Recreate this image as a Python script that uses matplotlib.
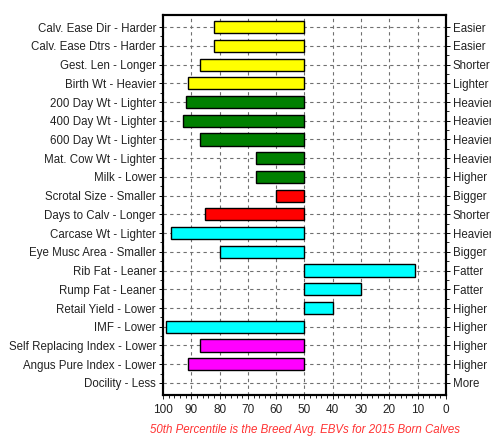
import numpy as np
import matplotlib.pyplot as plt
from matplotlib.ticker import MultipleLocator

plt.rcParams['font.family'] = ['Liberation Sans', 'DejaVu Sans']

# traits, left/right captions, percentile values and colours
left_labels = ['Calv. Ease Dir - Harder', 'Calv. Ease Dtrs - Harder', 'Gest. Len - Longer',
               'Birth Wt - Heavier', '200 Day Wt - Lighter', '400 Day Wt - Lighter',
               '600 Day Wt - Lighter', 'Mat. Cow Wt - Lighter', 'Milk - Lower',
               'Scrotal Size - Smaller', 'Days to Calv - Longer', 'Carcase Wt - Lighter',
               'Eye Musc Area - Smaller', 'Rib Fat - Leaner', 'Rump Fat - Leaner',
               'Retail Yield - Lower', 'IMF - Lower', 'Self Replacing Index - Lower',
               'Angus Pure Index - Lower', 'Docility - Less']
right_labels = ['Easier', 'Easier', 'Shorter', 'Lighter', 'Heavier', 'Heavier', 'Heavier',
                'Heavier', 'Higher', 'Bigger', 'Shorter', 'Heavier', 'Bigger', 'Fatter',
                'Fatter', 'Higher', 'Higher', 'Higher', 'Higher', 'More']
percentile = [82, 82, 87, 91, 92, 93, 87, 67, 67, 60, 85, 97, 80, 11, 30, 40, 99, 87, 91, 50]
colors = ['#ffff00'] * 4 + ['#008000'] * 5 + ['#ff0000'] * 2 + ['#00ffff'] * 6 + ['#ff00ff'] * 2 + ['#ffffff']

base = 50
y = np.arange(len(left_labels))

fig = plt.figure(figsize=(4.91, 4.40), dpi=100)
ax = fig.add_axes([0.332, 0.102, 0.576, 0.864])

# skip traits sitting right on the breed average (no bar drawn)
for yi, p, c in zip(y, percentile, colors):
    if p != base:
        ax.barh(yi, p - base, left=base, height=0.65, color=c, edgecolor='black',
                linewidth=1.0, zorder=3)

ax.set_xlim(100, 0)
ax.set_ylim(len(y) - 0.35, -0.65)
ax.xaxis.set_major_locator(MultipleLocator(10))
ax.xaxis.set_minor_locator(MultipleLocator(2))
ax.set_yticks(y)
ax.set_yticks(y[:-1] + 0.5, minor=True)
ax.set_yticklabels(left_labels, fontsize=8.3, color='#222222')
ax.tick_params(axis='x', labelsize=8.5, colors='#222222', length=3, width=0.7)
ax.tick_params(axis='x', which='minor', length=2, width=0.6)
ax.tick_params(axis='y', length=3, width=0.7, pad=2)
ax.tick_params(axis='y', which='minor', length=2, width=0.6)

ax2 = ax.twinx()
ax2.set_ylim(ax.get_ylim())
ax2.set_yticks(y)
ax2.set_yticks(y[:-1] + 0.5, minor=True)
ax2.set_yticklabels(right_labels, fontsize=8.3, color='#222222')
ax2.tick_params(axis='y', length=3, width=0.7, pad=2)
ax2.tick_params(axis='y', which='minor', length=2, width=0.6)

for a in (ax, ax2):
    for s in a.spines.values():
        s.set_linewidth(1.5)

ax.grid(True, which='major', color='#707070', linestyle=(0, (3, 3)), linewidth=0.8, zorder=0)
ax.set_axisbelow(True)

fig.text(0.621, 0.015, '50th Percentile is the Breed Avg. EBVs for 2015 Born Calves',
         color='#ff3333', fontsize=8.3, style='italic', ha='center')

fig.savefig('out.png', dpi=100)
